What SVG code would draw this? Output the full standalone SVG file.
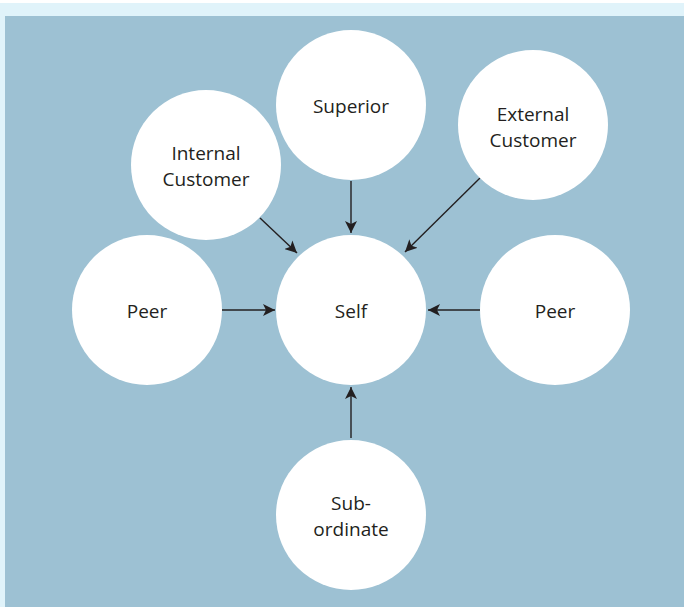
<svg xmlns="http://www.w3.org/2000/svg" width="684" height="607" viewBox="0 0 684 607">
<defs>
<style>
.n{fill:#fff}
.t{font-family:"Open Sans","Noto Sans",sans-serif;font-size:19px;fill:#231f20;text-anchor:middle}
.c{stroke:#231f20;stroke-width:1.4;fill:none;marker-end:url(#ah)}
</style>
<marker id="ah" viewBox="0 0 10 10" refX="10" refY="5" markerWidth="12" markerHeight="12" markerUnits="userSpaceOnUse" orient="auto">
<path d="M0,0 L10,5 L0,10 L2.5,5 Z" fill="#231f20"/>
</marker>
</defs>
<rect x="0" y="0" width="684" height="607" fill="#fff"/>
<rect x="0" y="3" width="684" height="604" fill="#e0f3fa"/>
<rect x="5" y="16" width="679" height="591" fill="#9dc1d3"/>
<g id="connectors">
<line class="c" x1="351" y1="181" x2="351" y2="233"/>
<line class="c" x1="260" y1="218" x2="297" y2="253"/>
<line class="c" x1="480" y1="178" x2="405" y2="252"/>
<line class="c" x1="222" y1="310" x2="275" y2="310"/>
<line class="c" x1="480" y1="310" x2="428" y2="310"/>
<line class="c" x1="351" y1="438" x2="351" y2="387"/>
</g>
<g id="self"><circle class="n" cx="351" cy="310" r="75"/><text class="t" x="351" y="318">Self</text></g>
<g id="superior"><circle class="n" cx="351" cy="105" r="75"/><text class="t" x="351" y="113">Superior</text></g>
<g id="internal"><circle class="n" cx="206" cy="165" r="75"/><text class="t" x="206" y="160">Internal</text><text class="t" x="206" y="186">Customer</text></g>
<g id="external"><circle class="n" cx="533" cy="125" r="75"/><text class="t" x="533" y="121">External</text><text class="t" x="533" y="147">Customer</text></g>
<g id="peer-left"><circle class="n" cx="147" cy="310" r="75"/><text class="t" x="147" y="318">Peer</text></g>
<g id="peer-right"><circle class="n" cx="555" cy="310" r="75"/><text class="t" x="555" y="318">Peer</text></g>
<g id="subordinate"><circle class="n" cx="351" cy="515" r="75"/><text class="t" x="351" y="510">Sub-</text><text class="t" x="351" y="536">ordinate</text></g>
</svg>
